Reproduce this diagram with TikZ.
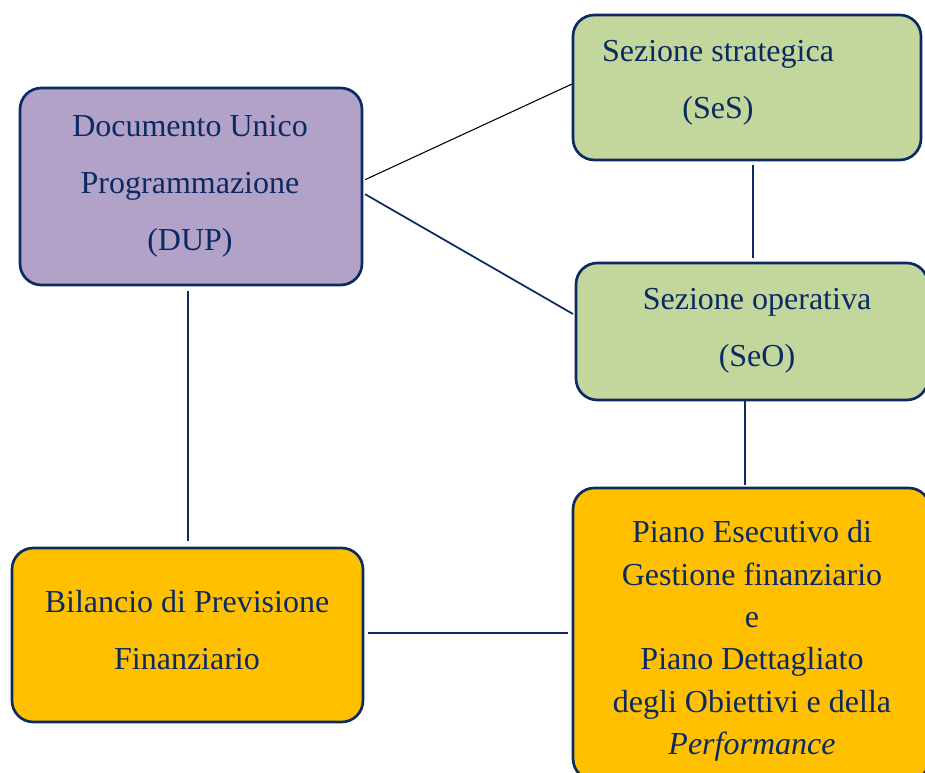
\documentclass[tikz,border=0pt]{standalone}
\usepackage{fontspec}
\setmainfont{Liberation Serif}
\usetikzlibrary{calc}
\definecolor{navy}{HTML}{0B2A64}
\definecolor{purplefill}{HTML}{B3A2C7}
\definecolor{greenfill}{HTML}{C3D69B}
\definecolor{orangefill}{HTML}{FFC000}
\tikzset{
  box/.style={draw=navy, line width=2pt, rounded corners=16pt, inner sep=0pt},
  lbl/.style={text=navy, align=center, inner sep=0pt, font=\fontsize{24}{42.75}\selectfont},
  lblpeg/.style={text=navy, align=center, inner sep=0pt, font=\fontsize{24}{31.8}\selectfont},
  conn/.style={draw=navy, line width=1.3pt},
  thinconn/.style={draw=black, line width=0.8pt}
}
\begin{document}
\begin{tikzpicture}[x=0.75pt,y=-0.75pt]
\useasboundingbox (0,0) rectangle (925,773);
\clip (0,0) rectangle (925,773);
% boxes
\node[box, fill=purplefill, minimum width=256.5pt, minimum height=147.75pt] (dup) at (191,186.5) {};
\node[box, fill=greenfill, minimum width=261pt, minimum height=108.75pt] (ses) at (747,87.5) {};
\node[box, fill=greenfill, minimum width=264pt, minimum height=102.75pt] (seo) at (752,331.5) {};
\node[box, fill=orangefill, minimum width=267.75pt, minimum height=219pt] (peg) at (751.5,634) {};
\node[box, fill=orangefill, minimum width=263.25pt, minimum height=130.5pt] (bil) at (187.5,635) {};
% texts
\node[lbl] (duptext) at (190,186) {Documento Unico\\Programmazione\\(DUP)};
\node[lbl] (sestext) at (718,83) {Sezione strategica\\(SeS)};
\node[lbl] (seotext) at (757,331) {Sezione operativa\\(SeO)};
\node[lbl] (biltext) at (187,630) {Bilancio di Previsione\\Finanziario};
\node[lblpeg] (pegtext) at (752,641) {Piano Esecutivo di\\Gestione finanziario\\e\\Piano Dettagliato\\degli Obiettivi e della\\\textit{Performance}};
% connectors
\draw[thinconn, shorten <=1.5pt] ([yshift=4.5pt]dup.east) -- ([yshift=2.5pt]ses.west);
\draw[conn, shorten <=1.5pt, shorten >=1.5pt] ([yshift=-5pt]dup.east) -- ([yshift=12.4pt]seo.west);
\draw[conn, shorten <=2.5pt, shorten >=2.5pt] ([xshift=4.5pt]ses.south) -- ([xshift=4.5pt]ses.south |- seo.north);
\draw[conn, shorten <=-2pt, shorten >=1.5pt] ([xshift=-5pt]seo.south) -- ([xshift=-5pt]seo.south |- peg.north);
\draw[conn, shorten <=3.5pt, shorten >=4.5pt] ([xshift=-2pt]dup.south) -- ([xshift=-2pt]dup.south |- bil.north);
\draw[conn, shorten <=3pt, shorten >=2.5pt] ([yshift=1.5pt]bil.east) -- ([yshift=1.5pt]bil.east -| peg.west);
\end{tikzpicture}
\end{document}
